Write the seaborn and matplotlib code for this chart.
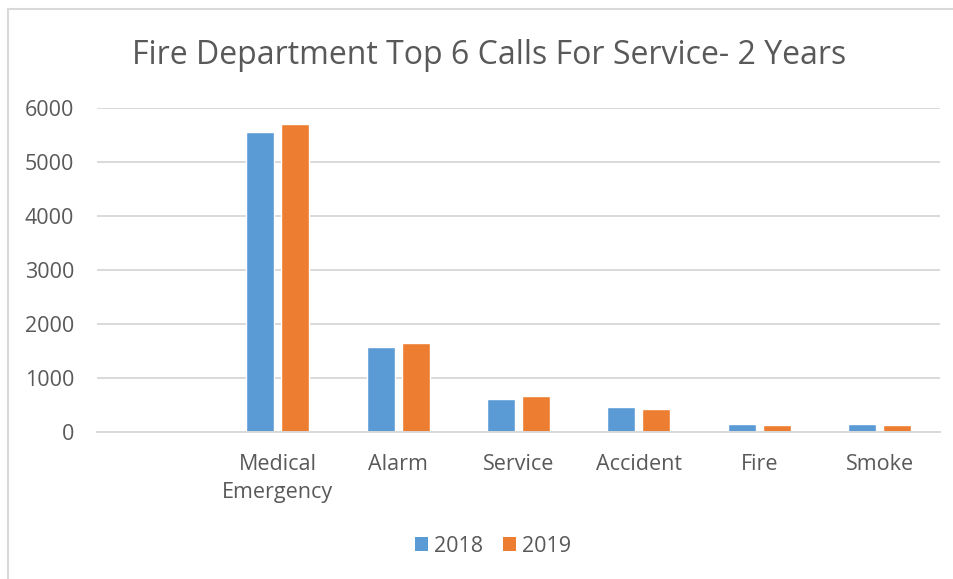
import matplotlib
matplotlib.use("Agg")
import matplotlib.pyplot as plt
from matplotlib.patches import Rectangle, Patch
import pandas as pd
import seaborn as sns

# Calls for service by type, two years
categories = ["Medical\nEmergency", "Alarm", "Service", "Accident", "Fire", "Smoke"]
calls_2018 = [5560, 1575, 612, 455, 143, 148]
calls_2019 = [5695, 1655, 675, 430, 124, 124]
years = ["2018", "2019"]
colors = ["#5B9BD5", "#ED7D31"]
y_ticks = [0, 1000, 2000, 3000, 4000, 5000, 6000]

df = pd.DataFrame({
    "Category": categories * 2,
    "Calls": calls_2018 + calls_2019,
    "Year": [years[0]] * len(categories) + [years[1]] * len(categories),
})

sns.set_theme(style="white")
plt.rcParams["font.family"] = ["Open Sans", "DejaVu Sans"]
text_color = "#595959"
grid_color = "#D9D9D9"

W, H = 954, 579
fig = plt.figure(figsize=(W / 100, H / 100), dpi=100)
ax = fig.add_axes([97 / W, 1 - 432 / H, (940 - 97) / W, (432 - 108) / H])

sns.barplot(data=df, x="Category", y="Calls", hue="Year", order=categories,
            hue_order=years, palette=colors, width=0.58, gap=0.2,
            saturation=1, ax=ax, legend=False, errorbar=None)

# leave an empty slot before the first category
ax.set_xlim(-1.5, len(categories) - 0.5)
ax.set_ylim(0, 6000)
ax.set_yticks(y_ticks)
ax.set_yticklabels([str(t) for t in y_ticks])
ax.set_xlabel("")
ax.set_ylabel("")
ax.yaxis.grid(True, color=grid_color, linewidth=1.4)
ax.set_axisbelow(True)
for s in ["top", "right", "left"]:
    ax.spines[s].set_visible(False)
ax.spines["bottom"].set_color(grid_color)
ax.spines["bottom"].set_linewidth(1.4)
ax.tick_params(axis="y", length=0, pad=16.5, labelsize=15.5, labelcolor=text_color)
ax.tick_params(axis="x", length=0, pad=16, labelsize=15.5, labelcolor=text_color)
for lbl in ax.get_xticklabels():
    lbl.set_linespacing(1.4)

fig.text(489 / W, 1 - 55 / H, "Fire Department Top 6 Calls For Service- 2 Years",
         ha="center", va="center", fontsize=23, color=text_color)

handles = [Patch(facecolor=c, edgecolor="none") for c in colors]
fig.legend(handles, years, loc="center", bbox_to_anchor=(493 / W, 1 - 546 / H),
           ncol=2, frameon=False, fontsize=15.5, labelcolor=text_color,
           handlelength=0.6, handleheight=0.6, handletextpad=0.3, columnspacing=0.9)

# outer chart frame
fig.patches.append(Rectangle((8.5 / W, -0.1), 1.2, 1.1 - 9.5 / H, transform=fig.transFigure,
                             fill=False, edgecolor=grid_color, linewidth=1.5))

fig.savefig("out.png", dpi=100, facecolor="white")
